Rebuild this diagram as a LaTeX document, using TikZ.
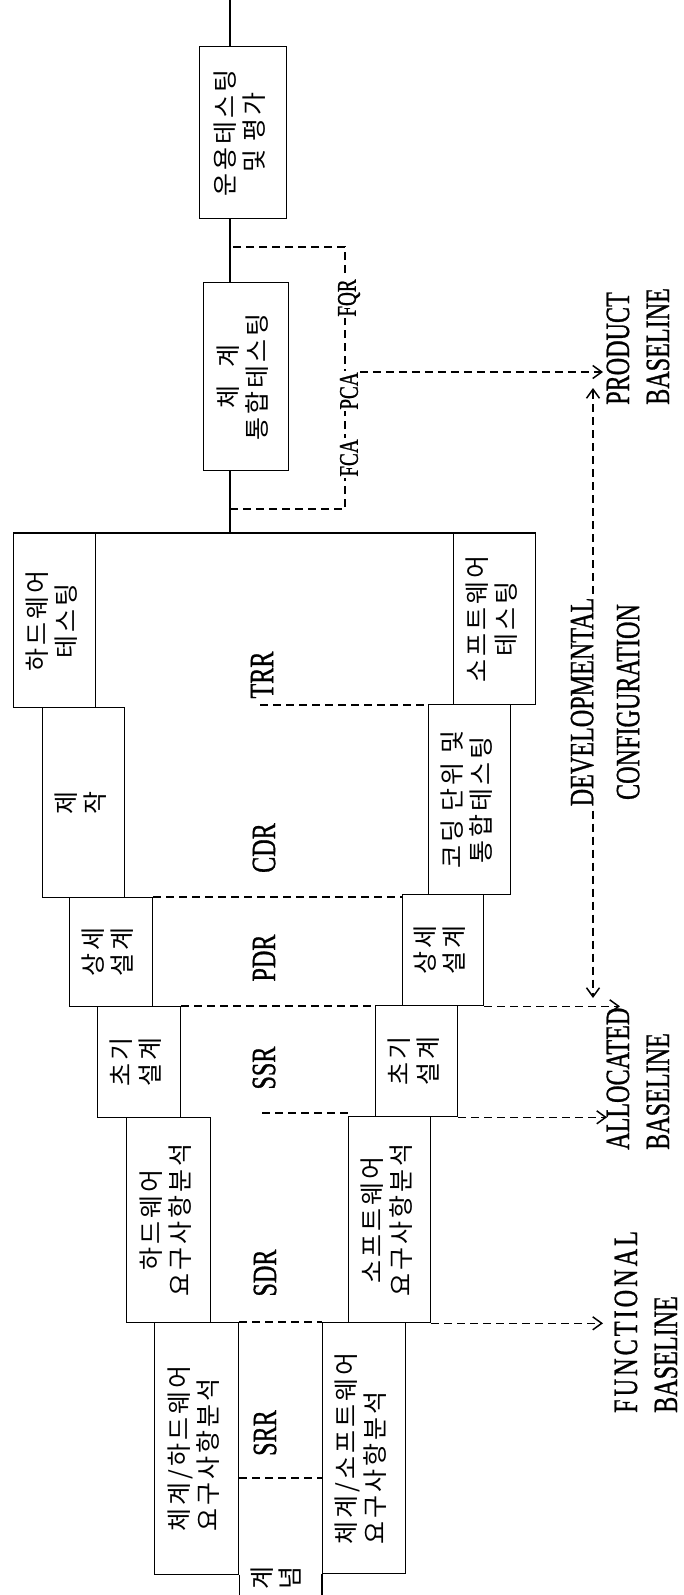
\documentclass[tikz,border=0pt]{standalone}
\usepackage{fontspec}
\usepackage{graphicx}
\usetikzlibrary{arrows.meta}
\newfontfamily\kr[LetterSpace=12]{Noto Sans CJK KR}
\newfontfamily\lat[FakeStretch=0.71,FakeBold=0.8]{Liberation Serif}
\newfontfamily\latw[FakeStretch=0.71,FakeBold=0.8,LetterSpace=9]{Liberation Serif}
\newcommand{\vtext}[2][c]{\rotatebox{90}{\begin{tabular}{@{}#1@{}}#2\end{tabular}}}

\begin{document}
\begin{tikzpicture}[
    x=1pt,
    y=-1pt,
    >={Straight Barb[length=9pt,width=13pt]},
    box/.style={draw,line width=1.3pt,inner sep=0pt,anchor=north west,
        font=\kr\fontsize{25}{28}\selectfont},
    dline/.style={line width=1.5pt,dash pattern=on 8pt off 5pt},
    revlab/.style={inner sep=0pt,font=\lat\fontsize{34}{40}\selectfont},
    baselab/.style={inner sep=0pt,font=\lat\fontsize{34}{40}\selectfont},
    doclab/.style={inner sep=1.5pt,fill=white,font=\lat\fontsize{27}{28}\selectfont}
]
    \useasboundingbox (0,0) rectangle (684,1595);

    % Rama de hardware
    \node[box,minimum width=82,minimum height=174] (hwtest) at (13,533) {\vtext{하드웨어\\테스팅}};
    \node[box,minimum width=82,minimum height=190] (fab) at (42,707) {\vtext{제\\작}};
    \node[box,minimum width=83,minimum height=109] (hwdd) at (69,897) {\vtext{상세\\설계}};
    \node[box,minimum width=83,minimum height=111] (hwpd) at (97,1006) {\vtext{초기\\설계}};
    \node[box,minimum width=84,minimum height=205] (hwreq) at (126,1117) {\vtext{하드웨어\\요구사항분석}};
    \node[box,minimum width=84,minimum height=252] (syshw) at (154,1322) {\vtext[l]{체계/하드웨어\\요구사항분석}};

    % Rama de software
    \node[box,minimum width=82,minimum height=171] (swtest) at (453,533) {\vtext{소프트웨어\\테스팅}};
    \node[box,minimum width=82,minimum height=190] (code) at (428,704) {\vtext{코딩 단위 및\\통합테스팅}};
    \node[box,minimum width=81,minimum height=111] (swdd) at (402,894) {\vtext{상세\\설계}};
    \node[box,minimum width=82,minimum height=111] (swpd) at (375,1005) {\vtext{초기\\설계}};
    \node[box,minimum width=82,minimum height=206] (swreq) at (348,1116) {\vtext{소프트웨어\\요구사항분석}};
    \node[box,minimum width=83,minimum height=251] (syssw) at (322,1322) {\vtext[l]{체계/소프트웨어\\요구사항분석}};

    % Integracion y operacion
    \node[box,minimum width=85,minimum height=188] (sysint) at (203,282) {\vtext{체\hspace{.7em}계\\통합테스팅}};
    \node[box,minimum width=87,minimum height=172] (ops) at (199,46) {\vtext{운용테스팅\\및 평가}};

    \coordinate (sp) at (230,0);
    \draw[line width=1.3pt] (sp) -- (sp |- ops.north)
        (sp |- ops.south) -- (sp |- sysint.north)
        (sp |- sysint.south) -- (sp |- hwtest.north);
    \draw[line width=1.5pt] (hwtest.north west) -- (swtest.north east);
    \draw[line width=1.3pt] (syshw.south east) -- ++(0,22)
        (syssw.south west) -- ++(0,22);
    \node[inner sep=0pt,font=\kr\fontsize{25}{26}\selectfont] (concept) at (279,1578) {\vtext[l]{계\\념}};

    % Revisiones
    \coordinate (trrL) at (260,705);
    \coordinate (ssrL) at (262,1113);
    \coordinate (srrB) at (240,1478);
    \draw[dline] (trrL) -- (trrL -| code.west);
    \draw[dline] (hwdd.north east) -- (hwdd.north east -| swdd.west);
    \draw[dline] (hwpd.north east) -- (hwpd.north east -| swpd.west);
    \draw[dline] (ssrL) -- (ssrL -| swreq.west);
    \draw[dline] (syshw.north east) -- (syssw.north west);
    \draw[dline] (srrB -| syshw.east) -- (srrB -| syssw.west);
    \node[revlab] (trr) at (262,675) {\rotatebox{90}{TRR}};
    \node[revlab] (cdr) at (264,848) {\rotatebox{90}{CDR}};
    \node[revlab] (pdr) at (264,958) {\rotatebox{90}{PDR}};
    \node[revlab] (ssr) at (264,1068) {\rotatebox{90}{SSR}};
    \node[revlab] (sdr) at (265,1273) {\rotatebox{90}{SDR}};
    \node[revlab] (srr) at (265,1433) {\rotatebox{90}{SRR}};

    % Auditorias
    \coordinate (brT) at (230,247);
    \coordinate (brB) at (230,509);
    \coordinate (brX) at (345,0);
    \draw[dline] (brB) -- (brB -| brX) -- (brT -| brX) -- (brT);
    \node[doclab] (fca) at (349,458) {\rotatebox{90}{FCA}};
    \node[doclab] (pca) at (349,391) {\rotatebox{90}{PCA}};
    \node[doclab] (fqr) at (349,298) {\rotatebox{90}{FQR}};

    % Lineas base
    \node[baselab,anchor=south] (func) at (649,1413) {\vtext[l]{{\latw FUNCTIONAL}\\BASELINE}};
    \node[baselab,anchor=south] (alloc) at (641,1150) {\vtext[l]{ALLOCATED\\BASELINE}};
    \node[baselab,anchor=south] (prod) at (641,405) {\vtext[l]{PRODUCT\\BASELINE}};
    \node[baselab,font=\lat\fontsize{34}{46}\selectfont] (dev) at (607,702) {\vtext{DEVELOPMENTAL\\CONFIGURATION}};

    \coordinate (prodtip) at (603,372);
    \coordinate (functip) at (603,0);
    \coordinate (alloctip) at (607,0);
    \coordinate (pdrtip) at (620,0);
    \coordinate (devT) at (593,388);
    \coordinate (devB) at (593,998);
    \draw[dline,->] (prodtip -| pca.east) -- (prodtip);
    \draw[dline,->] (swreq.south east) -- (swreq.south east -| functip);
    \draw[dline,->] (swpd.south east) -- (swpd.south east -| alloctip);
    \draw[dline,->] (swdd.south east) -- (swdd.south east -| pdrtip);
    \draw[dline,->,shorten <=4pt] (devT |- dev.north) -- (devT);
    \draw[dline,->,shorten <=4pt] (devB |- dev.south) -- (devB);
\end{tikzpicture}
\end{document}
